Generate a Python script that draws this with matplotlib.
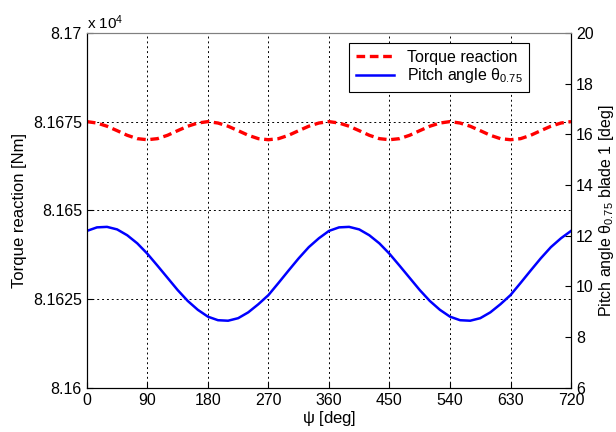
import matplotlib.pyplot as plt
from matplotlib.ticker import FixedLocator, FuncFormatter

plt.rcParams['font.family'] = ['Liberation Sans', 'DejaVu Sans']
plt.rcParams['mathtext.fontset'] = 'custom'
plt.rcParams['mathtext.rm'] = 'Liberation Sans'
plt.rcParams['mathtext.it'] = 'Liberation Sans'

# azimuth angle, every 15 deg
psi = [0, 15, 30, 45, 60, 75, 90, 105, 120, 135, 150, 165,
       180, 195, 210, 225, 240, 255, 270, 285, 300, 315, 330, 345,
       360, 375, 390, 405, 420, 435, 450, 465, 480, 495, 510, 525,
       540, 555, 570, 585, 600, 615, 630, 645, 660, 675, 690, 705, 720]

# torque reaction [Nm]
torque = [81675.0, 81674.6, 81673.7, 81672.45, 81671.15, 81670.2,
          81669.9, 81670.2, 81671.15, 81672.45, 81673.7, 81674.6,
          81675.0, 81674.6, 81673.7, 81672.45, 81671.15, 81670.2,
          81669.9, 81670.2, 81671.15, 81672.45, 81673.7, 81674.6,
          81675.0, 81674.6, 81673.7, 81672.45, 81671.15, 81670.2,
          81669.9, 81670.2, 81671.15, 81672.45, 81673.7, 81674.6,
          81675.0, 81674.6, 81673.7, 81672.45, 81671.15, 81670.2,
          81669.9, 81670.2, 81671.15, 81672.45, 81673.7, 81674.6,
          81675.0]

# pitch angle theta_0.75 of blade 1 [deg]
pitch = [12.19, 12.33, 12.35, 12.25, 12.02, 11.70, 11.29, 10.82,
         10.34, 9.86, 9.43, 9.08, 8.81, 8.67, 8.65, 8.75, 8.98, 9.30,
         9.66, 10.14, 10.63, 11.11, 11.55, 11.90,
         12.19, 12.33, 12.35, 12.25, 12.02, 11.70, 11.29, 10.82,
         10.34, 9.86, 9.43, 9.08, 8.81, 8.67, 8.65, 8.75, 8.98, 9.30,
         9.66, 10.14, 10.63, 11.11, 11.55, 11.90, 12.19]

torque_ticks = [81600, 81625, 81650, 81675, 81700]
torque_labels = ['8.16', '8.1625', '8.165', '8.1675', '8.17']

fig = plt.figure(figsize=(6.16, 4.32), dpi=100)
ax = fig.add_axes([0.141, 0.102, 0.786, 0.822])
ax2 = ax.twinx()

l1, = ax.plot(psi, torque, color='red', lw=2.4, linestyle=(0, (2.6, 1.4)),
              label='Torque reaction')
l2, = ax2.plot(psi, pitch, color='blue', lw=1.8, solid_joinstyle='round',
               label=r'Pitch angle $\theta_{0.75}$')

ax.set_xlim(0, 720)
ax.set_xticks(range(0, 721, 90))
ax.set_ylim(81600, 81700)
ax.yaxis.set_major_locator(FixedLocator(torque_ticks))
ax.yaxis.set_major_formatter(FuncFormatter(
    lambda v, p: torque_labels[torque_ticks.index(round(v))] if round(v) in torque_ticks else ''))
ax2.set_ylim(6, 20)
ax2.set_yticks(range(6, 21, 2))

ax.grid(True, color='black', linestyle=(0, (2, 3)), linewidth=0.7)
ax.tick_params(direction='in', labelsize=11.5, length=4)
ax2.tick_params(direction='in', labelsize=11.5, length=4)
for a in (ax, ax2):
    a.spines['top'].set_color('grey')

ax.set_xlabel(r'$\psi$ [deg]', fontsize=12, labelpad=1)
ax.set_ylabel('Torque reaction [Nm]', fontsize=12)
ax2.set_ylabel(r'Pitch angle $\theta_{0.75}$ blade 1 [deg]', fontsize=11.5, labelpad=2)
ax.text(0.0, 1.01, r'x 10$^4$', transform=ax.transAxes, fontsize=11)

leg = ax2.legend(handles=[l1, l2], loc='upper right', bbox_to_anchor=(0.913, 0.97),
                 fancybox=False, framealpha=1, edgecolor='black', fontsize=11.5,
                 borderaxespad=0, handlelength=2.4, labelspacing=0.1,
                 borderpad=0.4)
leg.get_frame().set_linewidth(0.8)

fig.savefig('out.png', dpi=100)
